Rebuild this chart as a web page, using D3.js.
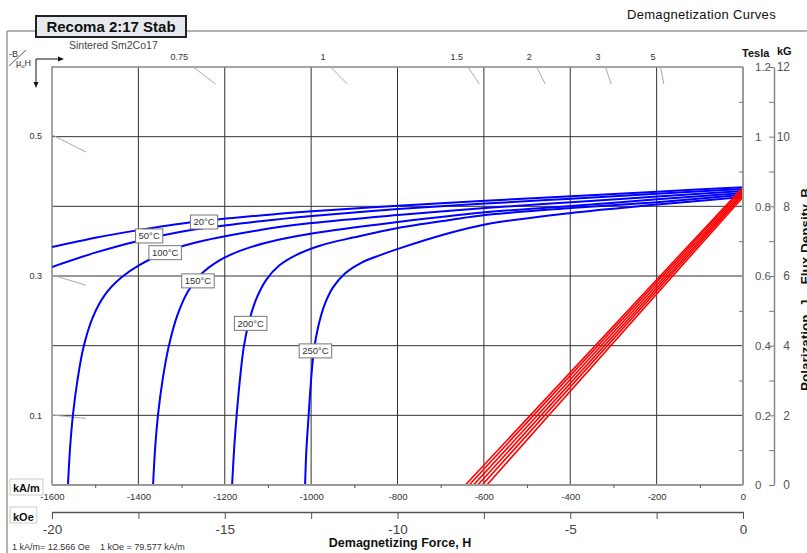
<!DOCTYPE html>
<html><head><meta charset="utf-8">
<script src="https://cdn.jsdelivr.net/npm/d3@7"></script>
<style>
body{margin:0;background:#fff;}
svg{display:block;font-family:"Liberation Sans",Arial,Helvetica,sans-serif;}
</style></head><body>
<svg id="c" width="807" height="553"></svg>
<script>
// ---------- data ----------
const hTicksKAm = [-1600,-1400,-1200,-1000,-800,-600,-400,-200,0];
const hMinorKAm = [-1500,-1300,-1100,-900,-700,-500,-300,-100];
const hTicksKOe = [-20,-17.5,-15,-12.5,-10,-7.5,-5,-2.5,0];
const teslaTicks = [0,0.2,0.4,0.6,0.8,1,1.2];
const teslaMinor = [0.1,0.3,0.5,0.7,0.9,1.1];
const kGTicks = [0,1,2,3,4,5,6,7,8,9,10,11,12];
const temps = ["20°C","50°C","100°C","150°C","200°C","250°C"];

// intrinsic curves J(H): [H kA/m, J Tesla]
const j20  = [[-1600,0.683],[-1500,0.710],[-1403,0.731],[-1278,0.754],[-1118,0.774],[-998,0.786],[-799,0.802],[-597,0.816],[-398,0.829],[-199,0.842],[0,0.855]];
const j50  = [[-1600,0.626],[-1500,0.667],[-1403,0.700],[-1278,0.732],[-1118,0.757],[-998,0.772],[-799,0.792],[-597,0.808],[-398,0.822],[-199,0.836],[0,0.850]];
const j100 = [[-1563,0],[-1558,0.109],[-1551,0.207],[-1541,0.301],[-1527,0.396],[-1506,0.480],[-1478,0.545],[-1441,0.594],[-1396,0.633],[-1297,0.686],[-1118,0.732],[-998,0.752],[-799,0.775],[-597,0.795],[-398,0.812],[-199,0.828],[0,0.844]];
const j150 = [[-1366,0],[-1361,0.109],[-1354,0.207],[-1344,0.301],[-1330,0.396],[-1310,0.486],[-1285,0.556],[-1255,0.605],[-1215,0.643],[-1165,0.672],[-1100,0.697],[-998,0.722],[-799,0.755],[-597,0.783],[-398,0.801],[-199,0.820],[0,0.838]];
const j200 = [[-1183,0],[-1178,0.109],[-1172,0.207],[-1165,0.301],[-1156,0.396],[-1144,0.468],[-1127,0.534],[-1104,0.589],[-1074,0.630],[-1035,0.660],[-980,0.687],[-900,0.711],[-799,0.738],[-678,0.761],[-597,0.775],[-398,0.795],[-199,0.812],[0,0.833]];
const j250 = [[-1014,0],[-1011,0.100],[-1006,0.195],[-1001,0.287],[-994,0.382],[-984,0.452],[-969,0.517],[-949,0.568],[-921,0.608],[-884,0.638],[-840,0.660],[-799,0.678],[-690,0.720],[-597,0.748],[-398,0.781],[-199,0.805],[0,0.827]];

// normal curves B(H): straight lines from (Hcb,0) to (0,Br)
const brTesla = [0.855,0.850,0.844,0.838,0.833,0.827];
const hcbKAm  = [-643,-634,-624,-614,-604,-593];

// curve label anchors
const labelH = [-1248,-1375,-1338,-1262,-1140,-990];
const labelJ = [0.755,0.715,0.667,0.586,0.464,0.385];

// permeance coefficient marks
const pcTop  = [0.75,1,1.5,2,3,5];
const pcLeft = [0.5,0.3,0.1];
const mu0 = 4*Math.PI*1e-4; // Tesla per kA/m

// ---------- layout ----------
const svg = d3.select("#c");
const L=52, R=743, T=67, B=485;
const x = d3.scaleLinear().domain([-1600,0]).range([L,R]);
const xOe = d3.scaleLinear().domain([-20,0]).range([L,R]);
const y = d3.scaleLinear().domain([0,1.2]).range([B,T]);
const yKG = d3.scaleLinear().domain([0,12]).range([B,T]);

// outer frame
svg.append("line").attr("x1",7).attr("x2",807).attr("y1",31).attr("y2",31).attr("stroke","#999").attr("stroke-width",1.5);
svg.append("line").attr("x1",7).attr("x2",7).attr("y1",31).attr("y2",553).attr("stroke","#999").attr("stroke-width",1.5);

// title box
svg.append("rect").attr("x",36).attr("y",16).attr("width",150).attr("height",21).attr("fill","#e6eaee").attr("stroke","#222").attr("stroke-width",2);
svg.append("text").attr("x",111).attr("y",32).attr("text-anchor","middle").attr("font-size",15).attr("font-weight","bold").attr("fill","#111").text("Recoma 2:17 Stab");
svg.append("text").attr("x",627).attr("y",19).attr("font-size",13).attr("letter-spacing",0.3).attr("fill","#111").text("Demagnetization Curves");
svg.append("text").attr("x",69).attr("y",49).attr("font-size",10.5).attr("fill","#444").text("Sintered Sm2Co17");

// -B/mu0H indicator
svg.append("text").attr("x",9).attr("y",57).attr("font-size",9).attr("fill","#333").text("-B");
svg.append("line").attr("x1",9).attr("y1",66).attr("x2",26).attr("y2",50).attr("stroke","#555");
const mt = svg.append("text").attr("x",16).attr("y",66).attr("font-size",9).attr("fill","#333");
mt.append("tspan").text("μ");
mt.append("tspan").attr("font-size",6).attr("dy",2).text("o");
mt.append("tspan").attr("dy",-2).text("H");
svg.append("path").attr("d","M36,59H61M36,59V84").attr("stroke","#111").attr("fill","none");
svg.append("path").attr("d","M64,59L58,56.5L58,61.5Z M36,88L33.5,82L38.5,82Z").attr("fill","#111");

// grid
const g = svg.append("g");
g.selectAll(".hg").data(teslaTicks.filter(d=>d>0&&d<1.2)).join("line")
  .attr("x1",L).attr("x2",R).attr("y1",d=>y(d)).attr("y2",d=>y(d)).attr("stroke","#333").attr("stroke-width",1);
g.selectAll(".vg").data(hTicksKAm.filter(d=>d>-1600&&d<0)).join("line")
  .attr("y1",T).attr("y2",B).attr("x1",d=>x(d)).attr("x2",d=>x(d)).attr("stroke","#333").attr("stroke-width",1);
// plot frame
svg.append("path").attr("d",`M${L},${B}V${T}H${R}`).attr("stroke","#888").attr("stroke-width",1.5).attr("fill","none");

// permeance marks
const pc = svg.append("g").attr("stroke","#aaa").attr("stroke-width",1);
pcTop.forEach(p=>{
  const b1=1.2, h1=-b1/(p*mu0);
  const b2=y.invert(y(b1)+17), h2=-b2/(p*mu0);
  pc.append("line").attr("x1",x(h1)).attr("y1",y(b1)).attr("x2",x(h2)).attr("y2",y(b2));
  svg.append("text").attr("x",x(h1)-5).attr("y",60).attr("text-anchor","end").attr("font-size",9).attr("fill","#333").text(p);
});
pcLeft.forEach(p=>{
  const h1=-1600, b1=-p*mu0*h1;
  const h2=x.invert(L+34), b2=-p*mu0*h2;
  pc.append("line").attr("x1",x(h1)).attr("y1",y(b1)).attr("x2",x(h2)).attr("y2",y(b2));
  svg.append("text").attr("x",42).attr("y",y(b1)+4).attr("text-anchor","end").attr("font-size",9).attr("fill","#333").text(p);
});

// clip
svg.append("clipPath").attr("id","pl").append("rect").attr("x",L).attr("y",T).attr("width",R-L).attr("height",B-T);

// intrinsic curves
const line = d3.line().x(d=>x(d[0])).y(d=>y(d[1])).curve(d3.curveCatmullRom.alpha(0.5));
const curves = [j20,j50,j100,j150,j200,j250];
svg.append("g").attr("clip-path","url(#pl)").selectAll("path").data(curves).join("path")
  .attr("d",line).attr("fill","none").attr("stroke","#0000ff").attr("stroke-width",2);

// normal lines
const normals = brTesla.map((br,i)=>[[hcbKAm[i],0],[0,br]]);
svg.append("g").attr("clip-path","url(#pl)").selectAll("path").data(normals).join("path")
  .attr("d",d3.line().x(d=>x(d[0])).y(d=>y(d[1]))).attr("fill","none").attr("stroke","#ff0000").attr("stroke-width",1.6);

// axes lines
svg.append("line").attr("x1",R).attr("x2",R).attr("y1",T).attr("y2",B).attr("stroke","#999").attr("stroke-width",2);
svg.append("line").attr("x1",L).attr("x2",R).attr("y1",B).attr("y2",B).attr("stroke","#999").attr("stroke-width",2);

// bottom kA/m axis
const ax1 = svg.append("g").attr("transform",`translate(0,${B})`)
  .call(d3.axisBottom(x).tickValues(hTicksKAm).tickSize(0).tickPadding(8).tickFormat(d=>String(d)));
ax1.select(".domain").remove();
ax1.selectAll("text").attr("font-size",9.5).attr("fill","#333").attr("font-family",null);
const ax1m = svg.append("g").attr("transform",`translate(0,${B})`)
  .call(d3.axisBottom(x).tickValues(hMinorKAm).tickSize(3).tickFormat(""));
ax1m.select(".domain").remove();
ax1m.selectAll("line").attr("stroke","#555");

// kOe axis
const ax2 = svg.append("g").attr("transform","translate(0,512)")
  .call(d3.axisBottom(xOe).tickValues(hTicksKOe).tickSize(7).tickSizeOuter(0).tickPadding(5).tickFormat(d=>d%5===0?String(d):""));
ax2.select(".domain").attr("stroke","#555").attr("stroke-width",1.5);
ax2.selectAll("line").attr("stroke","#555");
ax2.selectAll("text").attr("font-size",13.5).attr("fill","#444").attr("font-family",null);

// unit boxes
[["kA/m",479,492],["kOe",507,521]].forEach(([t,yy,bl])=>{
  const tx = svg.append("text").attr("x",13).attr("y",bl).attr("font-size",11).attr("font-weight","bold").attr("fill","#111").text(t);
  const w = tx.node().getComputedTextLength();
  svg.insert("rect","text").attr("x",10).attr("y",yy).attr("width",w+6).attr("height",16).attr("fill","#fff").attr("stroke","#ccc");
});
svg.append("text").attr("x",12).attr("y",550).attr("font-size",9).attr("fill","#333").text("1 kA/m= 12.566 Oe");
svg.append("text").attr("x",100).attr("y",550).attr("font-size",9).attr("fill","#333").text("1 kOe = 79.577 kA/m");
svg.append("text").attr("x",400).attr("y",547).attr("text-anchor","middle").attr("font-size",12.5).attr("font-weight","bold").attr("fill","#111").text("Demagnetizing Force, H");

// right Tesla axis
const ax3 = svg.append("g").attr("transform",`translate(${R},0)`)
  .call(d3.axisRight(y).tickValues(teslaTicks).tickSize(0).tickPadding(12).tickFormat(d=>String(d)));
ax3.select(".domain").remove();
ax3.selectAll("text").attr("font-size",11.5).attr("fill","#555").attr("font-family",null);
const ax3m = svg.append("g").attr("transform",`translate(${R},0)`)
  .call(d3.axisLeft(y).tickValues(teslaMinor).tickSize(4).tickFormat(""));
ax3m.select(".domain").remove();
ax3m.selectAll("line").attr("stroke","#777");

// kG axis
const ax4 = svg.append("g").attr("transform","translate(774,0)")
  .call(d3.axisRight(yKG).tickValues(kGTicks).tickSize(-5).tickSizeOuter(0).tickPadding(3).tickFormat(d=>d%2===0?String(d):""));
ax4.select(".domain").attr("stroke","#888").attr("stroke-width",1.5);
ax4.selectAll("line").attr("stroke","#777");
ax4.selectAll("text").attr("font-size",12).attr("fill","#555").attr("font-family",null).attr("text-anchor","end").attr("x",16);

svg.append("text").attr("x",742).attr("y",57).attr("font-size",11).attr("font-weight","bold").attr("fill","#111").text("Tesla");
svg.append("text").attr("x",777).attr("y",55).attr("font-size",11).attr("font-weight","bold").attr("fill","#111").text("kG");

svg.append("text").attr("transform","translate(810,391) rotate(-90)").attr("font-size",13.5).attr("font-weight","bold").attr("fill","#111").text("Polarization, J");
svg.append("text").attr("transform","translate(810,188) rotate(-90)").attr("text-anchor","end").attr("font-size",13.5).attr("font-weight","bold").attr("fill","#111").text("Flux Density, B");

// curve labels
const lg = svg.append("g");
temps.forEach((t,i)=>{
  const cx=x(labelH[i]), cy=y(labelJ[i]);
  const tx = lg.append("text").attr("x",cx).attr("y",cy).attr("dy","0.35em").attr("text-anchor","middle").attr("font-size",9.5).attr("fill","#333").text(t);
  const w = tx.node().getComputedTextLength();
  lg.insert("rect","text").attr("x",cx-w/2-3).attr("y",cy-7).attr("width",w+6).attr("height",14).attr("fill","#fff").attr("stroke","#777");
});
</script>
</body></html>
